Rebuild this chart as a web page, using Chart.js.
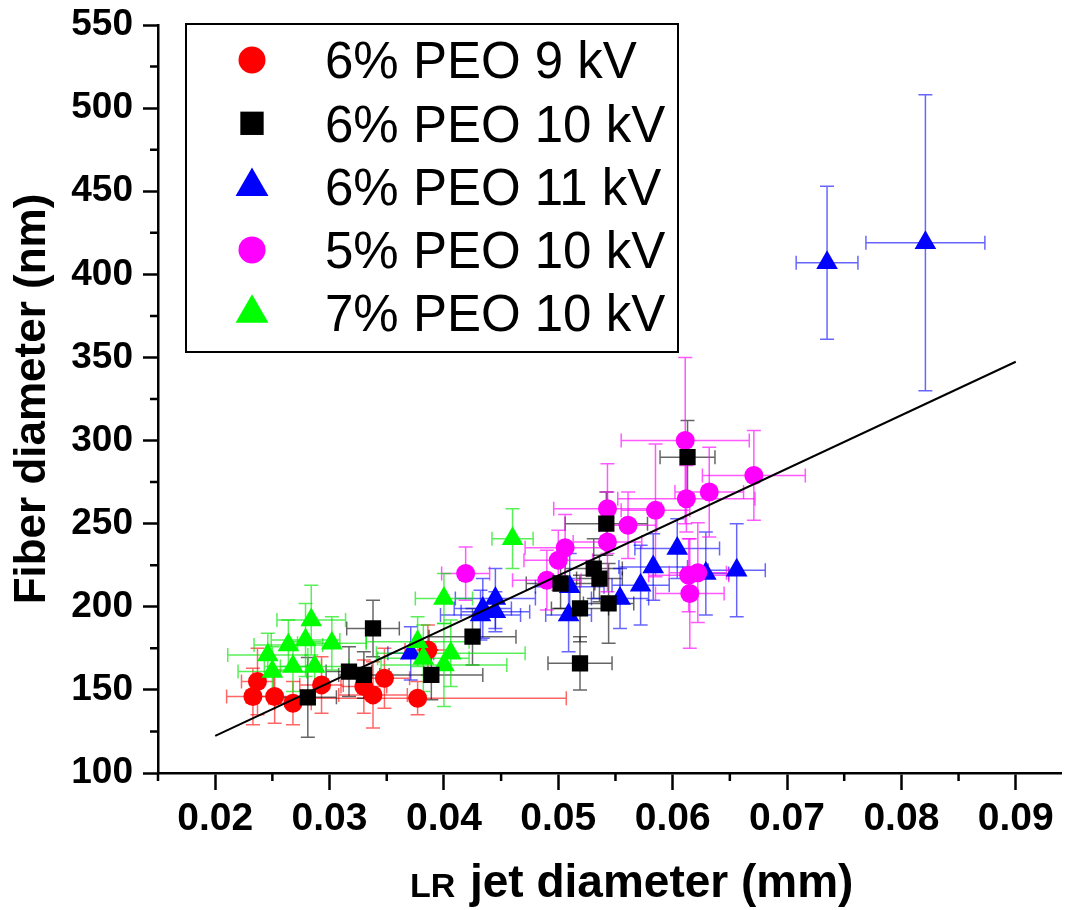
<!DOCTYPE html>
<html>
<head>
  <title>Fiber diameter vs jet diameter</title>
  <script src="https://cdn.jsdelivr.net/npm/chart.js"></script>
  <style>
    body { margin: 0; background: #fff; }
  </style>
</head>
<body>
  <canvas id="fiberChart" width="1074" height="910"></canvas>

  <script>
    // axis ticks
    const xTicks = [0.02, 0.03, 0.04, 0.05, 0.06, 0.07, 0.08, 0.09];
    const xMinorTicks = [0.015, 0.025, 0.035, 0.045, 0.055, 0.065, 0.075, 0.085];
    const yTicks = [100, 150, 200, 250, 300, 350, 400, 450, 500, 550];
    const yMinorTicks = [125, 175, 225, 275, 325, 375, 425, 475, 525];

    // 6% PEO 9 kV
    const red_x  = [0.0233, 0.0237, 0.0252, 0.0268, 0.0293, 0.0330, 0.0338, 0.0348, 0.0377, 0.0386];
    const red_y  = [146, 155, 146, 142, 153, 152, 147, 157, 145, 174];
    const red_xe = [0.0023, 0.0014, 0.0025, 0.0016, 0.0019, 0.0020, 0.0030, 0.0022, 0.0130, 0.0020];
    const red_ye = [17, 20, 16, 13, 17, 16, 20, 18, 10, 15];

    // 6% PEO 10 kV
    const black_x  = [0.0281, 0.0317, 0.0330, 0.0338, 0.0389, 0.0425, 0.0502, 0.0519, 0.0519, 0.0531, 0.0536, 0.0544, 0.0542, 0.0613];
    const black_y  = [145.5, 161, 159, 187, 159, 182, 214, 199, 166, 223, 217, 202, 250, 290];
    const black_xe = [0.0025, 0.0020, 0.0022, 0.0023, 0.0045, 0.0038, 0.0030, 0.0025, 0.0028, 0.0025, 0.0020, 0.0022, 0.0036, 0.0024];
    const black_ye = [24, 15, 14, 17, 15, 17, 15, 20, 16, 18, 14, 24, 19, 22];

    // 6% PEO 11 kV
    const blue_x  = [0.0371, 0.0432, 0.0434, 0.0445, 0.0445, 0.0509, 0.0510, 0.0554, 0.0572, 0.0583, 0.0604, 0.0629, 0.0656, 0.0735, 0.0821];
    const blue_y  = [172, 195, 199, 197, 205, 195, 212, 205, 213, 224, 235, 220, 222, 407, 419];
    const blue_xe = [0.0020, 0.0035, 0.0025, 0.0030, 0.0035, 0.0020, 0.0030, 0.0025, 0.0025, 0.0030, 0.0037, 0.0020, 0.0025, 0.0027, 0.0052];
    const blue_ye = [16, 15, 18, 12, 18, 22, 20, 18, 24, 20, 18, 25, 28, 46, 89];

    // 5% PEO 10 kV
    const magenta_x  = [0.0419, 0.0490, 0.0500, 0.0506, 0.0543, 0.0543, 0.0561, 0.0585, 0.0611, 0.0612, 0.0632, 0.0671, 0.0614, 0.0615, 0.0622];
    const magenta_y  = [220, 216, 228, 235.5, 239, 259, 249, 258, 300, 265, 269, 279, 219, 208, 220.5];
    const magenta_xe = [0.0021, 0.0030, 0.0030, 0.0035, 0.0030, 0.0047, 0.0025, 0.0030, 0.0056, 0.0060, 0.0030, 0.0045, 0.0035, 0.0030, 0.0025];
    const magenta_ye = [16, 18, 18, 20, 30, 27, 20, 40, 50, 20, 27, 27, 22, 33, 30];

    // 7% PEO 10 kV
    const green_x  = [0.0246, 0.0250, 0.0264, 0.0268, 0.0279, 0.0284, 0.0287, 0.0302, 0.0377, 0.0382, 0.0406, 0.0400, 0.0400, 0.0460];
    const green_y  = [171, 161, 177, 164, 180, 192, 164, 178, 179, 169, 172, 165, 205, 241];
    const green_xe = [0.0035, 0.0030, 0.0030, 0.0025, 0.0030, 0.0030, 0.0030, 0.0030, 0.0045, 0.0040, 0.0065, 0.0055, 0.0025, 0.0018];
    const green_ye = [13, 15, 15, 15, 22, 21, 15, 16, 15, 20, 20, 25, 15, 18];

    // linear fit
    const fit_x = [0.02, 0.09];
    const fit_y = [122.3, 347.4];

    function pts(xs, ys) {
      return xs.map((x, i) => ({ x: x, y: ys[i] }));
    }

    function drawMarker(ctx, style, x, y, r, color) {
      ctx.fillStyle = color;
      ctx.beginPath();
      if (style === 'circle') {
        ctx.arc(x, y, r, 0, Math.PI * 2);
      } else if (style === 'rect') {
        const s = r * Math.SQRT1_2;
        ctx.rect(x - s, y - s, 2 * s, 2 * s);
      } else {
        ctx.moveTo(x, y - r);
        ctx.lineTo(x + r * 0.866, y + r / 2);
        ctx.lineTo(x - r * 0.866, y + r / 2);
        ctx.closePath();
      }
      ctx.fill();
    }

    function scatterSet(label, xs, ys, xe, ye, color, errColor, style, radius, order) {
      return {
        type: 'scatter',
        label: label,
        data: pts(xs, ys),
        errX: xe,
        errY: ye,
        errColor: errColor,
        pointStyle: style,
        pointRadius: radius,
        pointHoverRadius: radius,
        backgroundColor: color,
        borderWidth: 0,
        order: order
      };
    }

    // error bars under every marker
    const errorBars = {
      id: 'errorBars',
      beforeDatasetsDraw(chart, args, opts) {
        const { ctx, chartArea, scales: { x, y } } = chart;
        ctx.save();
        ctx.beginPath();
        ctx.rect(chartArea.left, chartArea.top, chartArea.width, chartArea.height);
        ctx.clip();
        ctx.lineWidth = opts.width;
        const c = opts.cap;
        chart.data.datasets.forEach(ds => {
          if (!ds.errX) return;
          ctx.strokeStyle = ds.errColor;
          ds.data.forEach((p, i) => {
            const px = x.getPixelForValue(p.x), py = y.getPixelForValue(p.y);
            const x0 = x.getPixelForValue(p.x - ds.errX[i]), x1 = x.getPixelForValue(p.x + ds.errX[i]);
            const y0 = y.getPixelForValue(p.y - ds.errY[i]), y1 = y.getPixelForValue(p.y + ds.errY[i]);
            ctx.beginPath();
            ctx.moveTo(x0, py); ctx.lineTo(x1, py);
            ctx.moveTo(x0, py - c); ctx.lineTo(x0, py + c);
            ctx.moveTo(x1, py - c); ctx.lineTo(x1, py + c);
            ctx.moveTo(px, y0); ctx.lineTo(px, y1);
            ctx.moveTo(px - c, y0); ctx.lineTo(px + c, y0);
            ctx.moveTo(px - c, y1); ctx.lineTo(px + c, y1);
            ctx.stroke();
          });
        });
        ctx.restore();
      }
    };

    // minor ticks, boxed legend and the two-size x title
    const decorations = {
      id: 'decorations',
      afterDraw(chart, args, opts) {
        const { ctx, chartArea, scales: { x, y } } = chart;
        ctx.save();
        ctx.strokeStyle = '#000';
        ctx.lineWidth = 2.5;
        ctx.beginPath();
        xMinorTicks.forEach(v => {
          const px = x.getPixelForValue(v);
          ctx.moveTo(px, chartArea.bottom);
          ctx.lineTo(px, chartArea.bottom + opts.minorLength);
        });
        yMinorTicks.forEach(v => {
          const py = y.getPixelForValue(v);
          ctx.moveTo(chartArea.left, py);
          ctx.lineTo(chartArea.left - opts.minorLength, py);
        });
        ctx.stroke();

        // legend
        const L = opts.legend;
        ctx.fillStyle = '#fff';
        ctx.fillRect(L.left, L.top, L.right - L.left, L.bottom - L.top);
        ctx.lineWidth = 2;
        ctx.strokeRect(L.left, L.top, L.right - L.left, L.bottom - L.top);
        ctx.font = L.fontSize + 'px "Liberation Sans", Arial, sans-serif';
        ctx.textBaseline = 'alphabetic';
        ctx.textAlign = 'left';
        chart.data.datasets.filter(d => d.errX).forEach((ds, i) => {
          const cy = L.firstRow + i * L.rowGap;
          drawMarker(ctx, ds.pointStyle, L.markerX, cy, L.markerR[ds.pointStyle], ds.backgroundColor);
          ctx.fillStyle = '#000';
          ctx.fillText(ds.label, L.textX, cy + L.fontSize * 0.358);
        });

        // x title
        const T = opts.xTitle;
        ctx.fillStyle = '#000';
        ctx.font = 'bold ' + T.smallSize + 'px "Liberation Sans", Arial, sans-serif';
        ctx.fillText('LR', T.x, T.baseline);
        ctx.font = 'bold ' + T.bigSize + 'px "Liberation Sans", Arial, sans-serif';
        ctx.fillText('jet diameter (mm)', T.x + T.gap, T.baseline);
        ctx.restore();
      }
    };

    const ctx = document.getElementById('fiberChart').getContext('2d');
    const chart = new Chart(ctx, {
      type: 'scatter',
      data: {
        datasets: [
          scatterSet('6% PEO 9 kV', red_x, red_y, red_xe, red_ye, '#ff0000', 'rgba(255,0,0,0.6)', 'circle', 9.5, 5),
          scatterSet('6% PEO 10 kV', black_x, black_y, black_xe, black_ye, '#000000', 'rgba(0,0,0,0.6)', 'rect', 11.5, 1),
          scatterSet('6% PEO 11 kV', blue_x, blue_y, blue_xe, blue_ye, '#0000ff', 'rgba(0,0,255,0.6)', 'triangle', 12.5, 4),
          scatterSet('5% PEO 10 kV', magenta_x, magenta_y, magenta_xe, magenta_ye, '#ff00ff', 'rgba(255,0,255,0.65)', 'circle', 9.5, 3),
          scatterSet('7% PEO 10 kV', green_x, green_y, green_xe, green_ye, '#00ff00', 'rgba(0,230,0,0.65)', 'triangle', 12.5, 2),
          {
            type: 'line',
            label: 'fit',
            data: pts(fit_x, fit_y),
            borderColor: '#000',
            borderWidth: 2,
            pointRadius: 0,
            fill: false,
            order: 0
          }
        ]
      },
      options: {
        responsive: false,
        devicePixelRatio: 1,
        animation: false,
        layout: { padding: { top: 25, right: 0, bottom: 0, left: 0 } },
        plugins: {
          legend: { display: false },
          tooltip: { enabled: false },
          errorBars: { width: 1.5, cap: 7 },
          decorations: {
            minorLength: 8,
            legend: {
              left: 186, top: 24, right: 678, bottom: 352,
              markerX: 252, textX: 325, firstRow: 60, rowGap: 63.3, fontSize: 51,
              markerR: { circle: 13.5, rect: 16.5, triangle: 19 }
            },
            xTitle: { x: 410, baseline: 897, gap: 60, smallSize: 34, bigSize: 46 }
          }
        },
        scales: {
          x: {
            type: 'linear',
            min: 0.015,
            max: 0.094,
            afterBuildTicks: s => { s.ticks = xTicks.map(v => ({ value: v })); },
            afterFit: s => { s.height = 137; },
            ticks: {
              color: '#000',
              padding: 6,
              maxRotation: 0,
              autoSkip: false,
              font: { family: 'Liberation Sans', weight: 'bold', size: 39 },
              callback: v => Number(v).toFixed(2)
            },
            grid: { drawOnChartArea: false, tickLength: 17, tickWidth: 2.5, tickColor: '#000' },
            border: { color: '#000', width: 2.5 },
            title: { display: false }
          },
          y: {
            type: 'linear',
            min: 100,
            max: 550,
            afterBuildTicks: s => { s.ticks = yTicks.map(v => ({ value: v })); },
            afterFit: s => { s.width = 158; s.paddingTop = 0; },
            ticks: {
              color: '#000',
              padding: 10,
              autoSkip: false,
              font: { family: 'Liberation Sans', weight: 'bold', size: 37, lineHeight: 1 },
              callback: v => String(v)
            },
            grid: { drawOnChartArea: false, tickLength: 15, tickWidth: 2.5, tickColor: '#000' },
            border: { color: '#000', width: 2.5 },
            title: {
              display: true,
              text: 'Fiber diameter (nm)',
              color: '#000',
              font: { family: 'Liberation Sans', weight: 'bold', size: 44, lineHeight: 1.2 },
              padding: { top: 6, bottom: 0 }
            }
          }
        }
      },
      plugins: [errorBars, decorations]
    });
  </script>
</body>
</html>
